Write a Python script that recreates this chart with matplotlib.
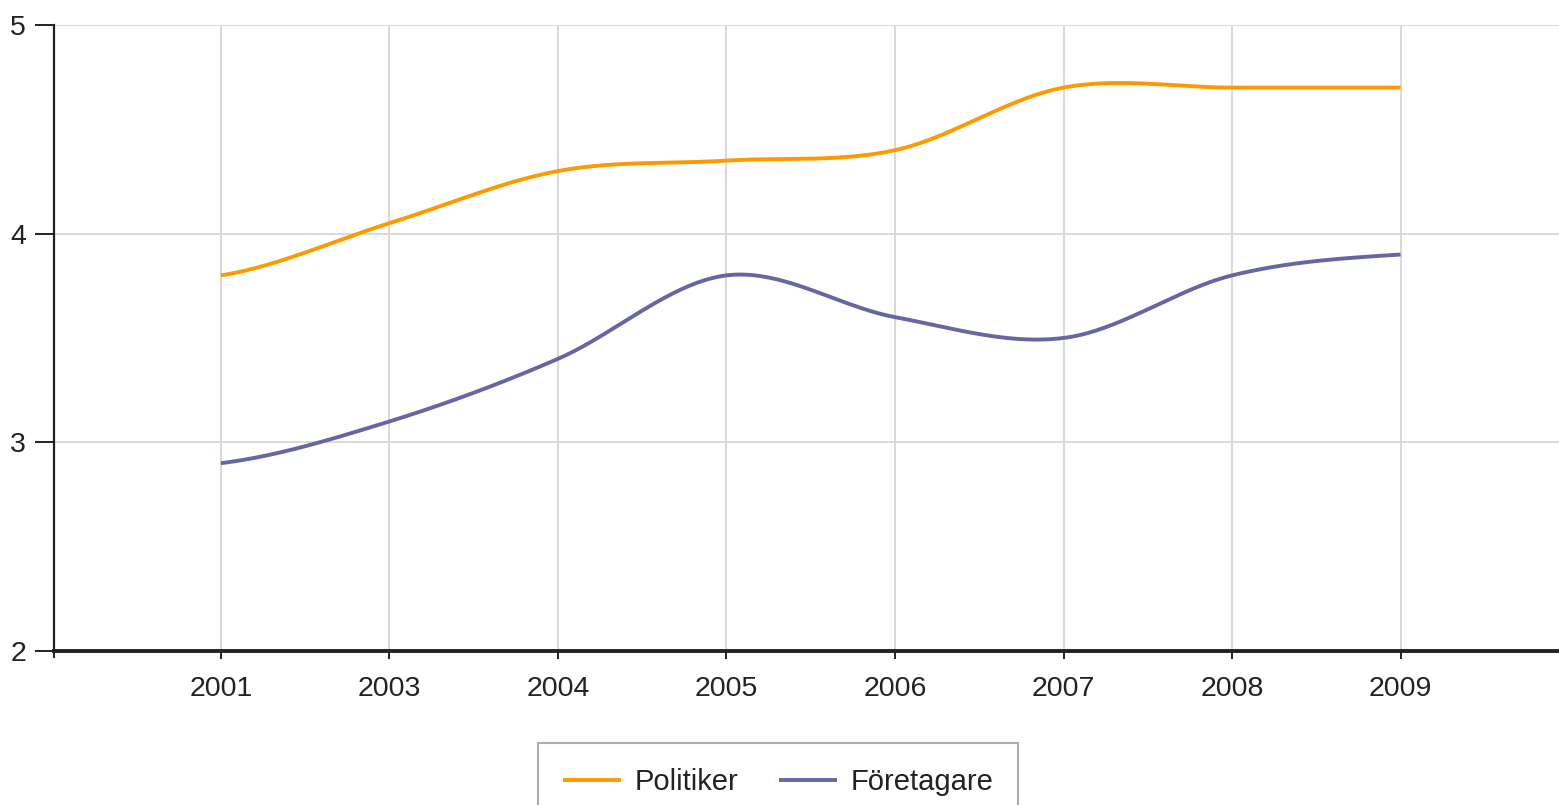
import numpy as np
import matplotlib
matplotlib.use("Agg")
import matplotlib.pyplot as plt

years = ["2001", "2003", "2004", "2005", "2006", "2007", "2008", "2009"]
politiker = [3.8, 4.05, 4.3, 4.35, 4.4, 4.7, 4.7, 4.7]
foretagare = [2.9, 3.1, 3.4, 3.8, 3.6, 3.5, 3.8, 3.9]

plt.rcParams["font.family"] = ["Liberation Sans", "DejaVu Sans"]


def cardinal(y, n=40):
    # Catmull-Rom style smoothing between category points
    y = np.asarray(y, dtype=float)
    x = np.arange(len(y), dtype=float)
    m = np.zeros_like(y)
    m[1:-1] = (y[2:] - y[:-2]) / 2
    m[0] = (y[1] - y[0]) / 2
    m[-1] = (y[-1] - y[-2]) / 2
    xs, ys = [], []
    for i in range(len(y) - 1):
        t = np.linspace(0, 1, n, endpoint=(i == len(y) - 2))
        h00 = 2 * t**3 - 3 * t**2 + 1
        h10 = t**3 - 2 * t**2 + t
        h01 = -2 * t**3 + 3 * t**2
        h11 = t**3 - t**2
        xs.append(x[i] + t)
        ys.append(h00 * y[i] + h10 * m[i] + h01 * y[i + 1] + h11 * m[i + 1])
    return np.concatenate(xs), np.concatenate(ys)


fig = plt.figure(figsize=(15.59, 8.05), dpi=100)
ax = fig.add_axes([54 / 1559, 1 - 651 / 805, 1 - 54 / 1559, (651 - 25) / 805])

x1, y1 = cardinal(politiker)
x2, y2 = cardinal(foretagare)
ax.plot(x1, y1, color="#FF9900", lw=2.8, label="Politiker", solid_capstyle="butt")
ax.plot(x2, y2, color="#6666A3", lw=2.8, label="Företagare", solid_capstyle="butt")

ax.set_xlim(-0.99, 7.94)
ax.set_ylim(2, 5)
ax.set_xticks(range(len(years)))
ax.set_xticklabels(years)
ax.set_yticks([2, 3, 4, 5])
ax.grid(True, color="#D9D9D9", lw=1.4)
ax.set_axisbelow(True)

for s in ["top", "right"]:
    ax.spines[s].set_visible(False)
ax.spines["left"].set_linewidth(1.6)
ax.spines["bottom"].set_linewidth(2.8)
ax.spines["left"].set_color("#222222")
ax.spines["bottom"].set_color("#222222")
ax.tick_params(axis="y", length=14, width=1.4, color="#222222", labelsize=20.5,
               labelcolor="#222222", pad=6)
ax.tick_params(axis="x", length=6, width=1.4, color="#222222", labelsize=20.5,
               labelcolor="#222222", pad=12)

# extra tick at the left end of the x axis
ax.plot([-0.99, -0.99], [2, 1.97], color="#222222", lw=1.4, clip_on=False)

leg = fig.legend(loc="upper center", bbox_to_anchor=(778 / 1559, 1 - 743 / 805),
                 ncol=2, fontsize=21, frameon=True, fancybox=False,
                 edgecolor="#999999", handlelength=2.0, handletextpad=0.45,
                 columnspacing=1.4, borderpad=0.85, borderaxespad=0)
leg.get_frame().set_linewidth(1.5)
for t in leg.get_texts():
    t.set_color("#222222")

fig.savefig("out.png", dpi=100)
